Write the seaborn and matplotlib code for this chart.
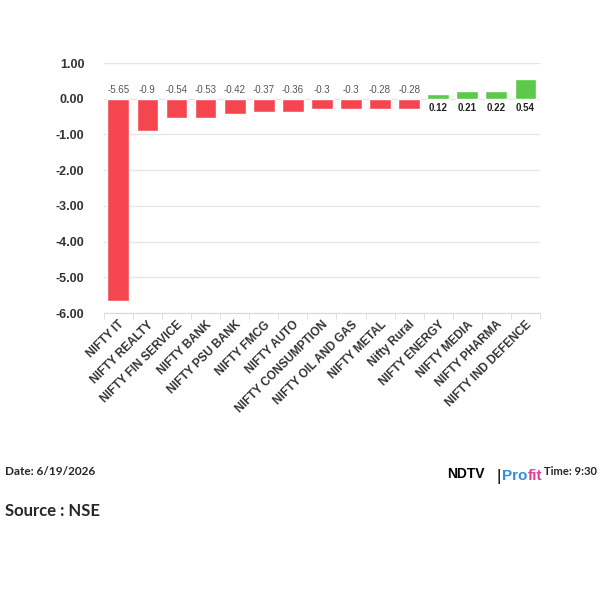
import pandas as pd
import numpy as np
import matplotlib.pyplot as plt
import seaborn as sns

# Data
indices = ['NIFTY IT', 'NIFTY REALTY', 'NIFTY FIN SERVICE', 'NIFTY BANK', 'NIFTY PSU BANK',
           'NIFTY FMCG', 'NIFTY AUTO', 'NIFTY CONSUMPTION', 'NIFTY OIL AND GAS', 'NIFTY METAL',
           'Nifty Rural', 'NIFTY ENERGY', 'NIFTY MEDIA', 'NIFTY PHARMA', 'NIFTY IND DEFENCE']
changes = [-5.65, -0.9, -0.54, -0.53, -0.42, -0.37, -0.36, -0.3, -0.3, -0.28, -0.28,
           0.12, 0.21, 0.22, 0.54]
y_ticks = [1, 0, -1, -2, -3, -4, -5, -6]

red = '#f5464f'
green = '#5cc94a'

sns.set_style('white')
plt.rcParams['font.family'] = ['Liberation Sans', 'DejaVu Sans']

df = pd.DataFrame({'index': indices, 'change': changes})
df['sign'] = np.where(df['change'] < 0, 'neg', 'pos')

fig = plt.figure(figsize=(6, 6), dpi=100)
ax = fig.add_axes([0.173, 0.478, 0.727, 0.417])

sns.barplot(data=df, x='index', y='change', hue='sign',
            palette={'neg': red, 'pos': green}, width=0.75, saturation=1,
            dodge=False, legend=False, ax=ax)

ax.set_ylim(-6, 1)
ax.set_yticks(y_ticks)
ax.set_yticklabels([f'{v:.2f}' for v in y_ticks], fontsize=9, fontweight='bold', color='#333333')
ax.yaxis.grid(True, color='#e6e6e6', linewidth=1)
ax.set_axisbelow(True)
ax.tick_params(axis='y', length=0, pad=14)
for s in ['top', 'right', 'left']:
    ax.spines[s].set_visible(False)
ax.spines['bottom'].set_color('#d9d9d9')
ax.spines['bottom'].set_position(('data', -6))

ax.set_xticks(np.arange(len(indices)))
ax.set_xticklabels(indices, rotation=45, ha='right', rotation_mode='anchor',
                   fontsize=8.5, fontweight='bold', color='#333333')
ax.set_xticks(np.arange(len(indices) + 1) - 0.5, minor=True)
ax.tick_params(axis='x', which='major', length=0, pad=4)
ax.tick_params(axis='x', which='minor', length=4, color='#d9d9d9', bottom=True)
ax.set_xlim(-0.5, len(indices) - 0.5)
ax.set_xlabel('')
ax.set_ylabel('')

for i, v in enumerate(changes):
    if v < 0:
        ax.text(i, 0.1, f'{v:g}', ha='center', va='bottom', fontsize=7, color='#555555')
    else:
        ax.text(i, -0.12, f'{v:g}', ha='center', va='top', fontsize=7,
                fontweight='bold', color='#222222')

# Footer
fig.text(0.008, 0.208, 'Date: 6/19/2026', fontsize=8.5, fontweight='bold', family='Lato')
fig.text(0.008, 0.14, 'Source : NSE', fontsize=12, fontweight='bold', family='Lato')
fig.text(0.995, 0.208, 'Time: 9:30', fontsize=8, fontweight='bold', family='Lato', ha='right')
fig.text(0.745, 0.203, 'NDTV', fontsize=10, fontweight='bold', color='black')
fig.text(0.828, 0.198, '|', fontsize=12, color='black')
fig.text(0.837, 0.200, 'Pro', fontsize=11, fontweight='bold', color='#2f8fe0')
fig.text(0.880, 0.200, 'fit', fontsize=11, fontweight='bold', color='#e0409a')

fig.savefig('out.png', dpi=100)
